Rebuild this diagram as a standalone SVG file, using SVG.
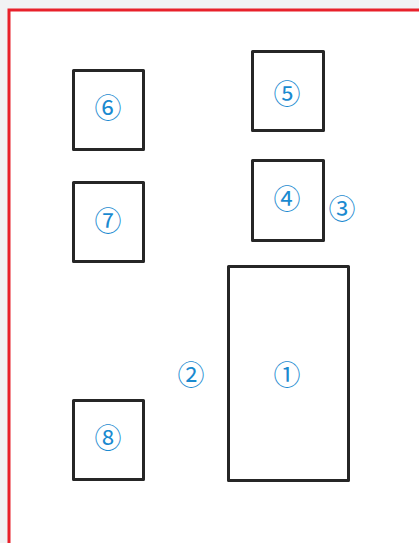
<svg xmlns="http://www.w3.org/2000/svg" width="419" height="543" viewBox="0 0 419 543">
<style>
.box{fill:none;stroke:#262626;stroke-width:3;stroke-linejoin:round}
.lbl{font-family:"Noto Sans CJK JP","DejaVu Sans",sans-serif;font-size:27px;fill:#1a8ad0;text-anchor:middle;dominant-baseline:central}
</style>
<rect x="0" y="0" width="419" height="543" fill="#f1f2f4"/>
<rect x="9" y="10" width="420" height="540" fill="#ffffff" stroke="#e8212b" stroke-width="3"/>
<g id="node1"><rect class="box" x="228.5" y="266.5" width="120" height="214"/><text class="lbl" x="287" y="373">①</text></g>
<g id="node2"><text class="lbl" x="191" y="373">②</text></g>
<g id="node3"><text class="lbl" x="342" y="207">③</text></g>
<g id="node4"><rect class="box" x="252.5" y="160.5" width="71" height="80"/><text class="lbl" x="287" y="197">④</text></g>
<g id="node5"><rect class="box" x="252.5" y="51.5" width="71" height="79"/><text class="lbl" x="287" y="92">⑤</text></g>
<g id="node6"><rect class="box" x="73.5" y="70.5" width="70" height="79"/><text class="lbl" x="108" y="106">⑥</text></g>
<g id="node7"><rect class="box" x="73.5" y="182.5" width="70" height="79"/><text class="lbl" x="108" y="219">⑦</text></g>
<g id="node8"><rect class="box" x="73.5" y="400.5" width="70" height="79"/><text class="lbl" x="108" y="436">⑧</text></g>
<g id="connectors"></g>
</svg>
